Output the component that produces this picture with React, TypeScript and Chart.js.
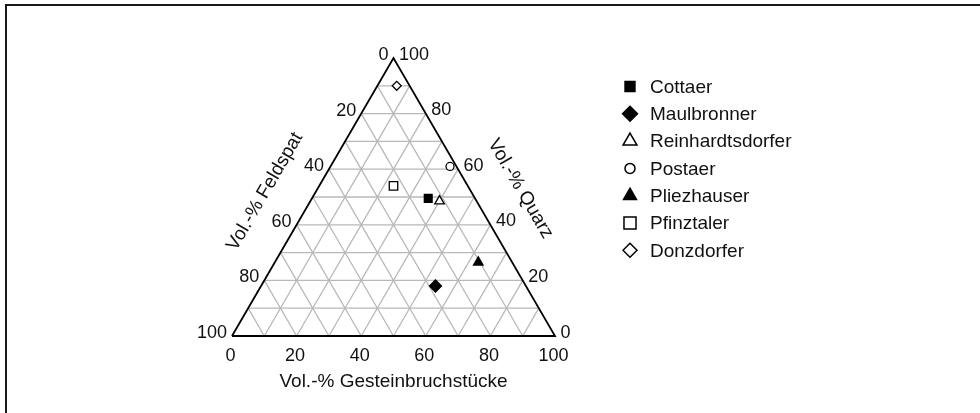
import React, { useEffect, useRef } from 'react';
import { Chart, registerables } from 'chart.js';
import { drawPoint } from 'chart.js/helpers';

Chart.register(...registerables);

// ---- data ----
const SAMPLES = ['Cottaer', 'Maulbronner', 'Reinhardtsdorfer', 'Postaer', 'Pliezhauser', 'Pfinztaler', 'Donzdorfer'];
const QUARZ = [49.5, 18, 48.5, 61, 26.5, 54, 90];
const GESTEIN = [36, 54, 40, 37, 63, 23, 6];
const FELDSPAT = [14.5, 28, 11.5, 2, 10.5, 23, 4];
const POINT_STYLES = ['rect', 'rectRot', 'triangle', 'circle', 'triangle', 'rect', 'rectRot'];
const FILLED = [true, true, false, false, true, false, false];
const POINT_RADII = [5.5, 6, 5.5, 4, 5.5, 6, 4.5];
const LEGEND_RADII = [7, 7.5, 8, 5, 7.5, 8.5, 7];

const GRID_STEPS = [10, 20, 30, 40, 50, 60, 70, 80, 90];
const TICKS = [0, 20, 40, 60, 80, 100];
const TITLE_G = 'Vol.-% Gesteinbruchstücke';
const TITLE_F = 'Vol.-% Feldspat';
const TITLE_Q = 'Vol.-% Quarz';

const H = Math.sqrt(3) / 2;
const toXY = (q: number, g: number) => ({ x: g + q / 2, y: q * H });

const FONT = '"Liberation Sans", Arial, Helvetica, sans-serif';

function lineDs(points: { x: number; y: number }[], color: string, width: number, order: number) {
  return {
    data: points,
    showLine: true,
    borderColor: color,
    borderWidth: width,
    pointRadius: 0,
    pointHoverRadius: 0,
    fill: false,
    clip: false as any,
    order,
  };
}

const labelPlugin = {
  id: 'ternaryLabels',
  afterDraw(chart: any) {
    const ctx = chart.ctx as CanvasRenderingContext2D;
    const xs = chart.scales.x;
    const ys = chart.scales.y;
    const px = (q: number, g: number) => {
      const p = toXY(q, g);
      return { x: xs.getPixelForValue(p.x), y: ys.getPixelForValue(p.y) };
    };
    ctx.save();
    // frame
    ctx.fillStyle = '#1a1a1a';
    ctx.fillRect(5, 4, 980, 2);
    ctx.fillRect(5, 4, 2, 420);

    ctx.fillStyle = '#111';
    ctx.font = `18px ${FONT}`;
    ctx.textBaseline = 'alphabetic';
    // bottom ticks (Gestein)
    ctx.textAlign = 'center';
    TICKS.forEach((v) => {
      const p = px(0, v);
      ctx.fillText(String(v), p.x - 1.5, p.y + 25);
    });
    // left ticks (Feldspat)
    ctx.textAlign = 'right';
    TICKS.forEach((v) => {
      const p = px(100 - v, 0);
      ctx.fillText(String(v), p.x - 5, p.y + 2);
    });
    // right ticks (Quarz)
    ctx.textAlign = 'left';
    TICKS.forEach((v) => {
      const p = px(v, 100 - v);
      ctx.fillText(String(v), p.x + 5.5, p.y + 1.5);
    });

    // titles
    ctx.font = `19px ${FONT}`;
    ctx.textAlign = 'center';
    const bl = px(0, 0);
    const br = px(0, 100);
    const ap = px(100, 0);
    ctx.fillText(TITLE_G, (bl.x + br.x) / 2, bl.y + 50.5);

    ctx.textBaseline = 'middle';
    // left title
    {
      const t = 0.44;
      const cx = bl.x + (ap.x - bl.x) * t;
      const cy = bl.y + (ap.y - bl.y) * t;
      const ang = Math.atan2(ap.y - bl.y, ap.x - bl.x);
      const nx = Math.sin(ang);
      const ny = -Math.cos(ang);
      ctx.save();
      ctx.translate(cx + nx * 44, cy + ny * 44);
      ctx.rotate(ang);
      ctx.fillText(TITLE_F, 0, 0);
      ctx.restore();
    }
    // right title
    {
      const t = 0.45;
      const cx = br.x + (ap.x - br.x) * t;
      const cy = br.y + (ap.y - br.y) * t;
      const ang = Math.atan2(br.y - ap.y, br.x - ap.x);
      const nx = -Math.sin(ang);
      const ny = Math.cos(ang);
      ctx.save();
      ctx.translate(cx - nx * 44, cy - ny * 44);
      ctx.rotate(ang);
      ctx.fillText(TITLE_Q, 0, 0);
      ctx.restore();
    }

    // legend
    ctx.textAlign = 'left';
    ctx.textBaseline = 'alphabetic';
    SAMPLES.forEach((name, i) => {
      const base = 92.8 + i * 27.3;
      const my = base - 6.3;
      ctx.fillStyle = FILLED[i] ? '#000' : '#fff';
      ctx.strokeStyle = '#000';
      ctx.lineWidth = 1.5;
      drawPoint(ctx, { pointStyle: POINT_STYLES[i] as any, rotation: 0, radius: LEGEND_RADII[i], borderWidth: 1.5 } as any, 630, my);
      ctx.fillStyle = '#111';
      ctx.fillText(name, 650, base);
    });
    ctx.restore();
  },
};

export default function App() {
  const ref = useRef<HTMLCanvasElement | null>(null);
  useEffect(() => {
    if (!ref.current) return;
    const datasets: any[] = [];
    SAMPLES.forEach((name, i) => {
      datasets.push({
        label: name,
        data: [toXY(QUARZ[i], GESTEIN[i])],
        showLine: false,
        pointStyle: POINT_STYLES[i],
        pointRadius: POINT_RADII[i],
        pointHoverRadius: POINT_RADII[i],
        backgroundColor: FILLED[i] ? '#000' : '#fff',
        borderColor: '#000',
        pointBorderWidth: 1.3,
        clip: false,
        order: 0,
        // Feldspat share kept for reference: FELDSPAT[i]
        feldspat: FELDSPAT[i],
      });
    });
    // outline
    datasets.push(lineDs([toXY(0, 0), toXY(0, 100), toXY(100, 0), toXY(0, 0)], '#000', 1.8, 1));
    // grid
    GRID_STEPS.forEach((k) => {
      datasets.push(lineDs([toXY(k, 0), toXY(k, 100 - k)], '#b8b8b8', 1.3, 2));
      datasets.push(lineDs([toXY(0, k), toXY(100 - k, k)], '#b8b8b8', 1.3, 2));
      datasets.push(lineDs([toXY(0, 100 - k), toXY(100 - k, 0)], '#b8b8b8', 1.3, 2));
    });

    const chart = new Chart(ref.current, {
      type: 'scatter',
      data: { datasets },
      options: {
        responsive: false,
        animation: false,
        events: [],
        layout: { padding: { left: 232, right: 425, top: 58, bottom: 77 } },
        plugins: { legend: { display: false }, tooltip: { enabled: false } },
        scales: {
          x: { type: 'linear', min: 0, max: 100, display: false },
          y: { type: 'linear', min: 0, max: 100 * H, display: false },
        },
      },
      plugins: [labelPlugin],
    } as any);
    return () => chart.destroy();
  }, []);
  return (
    <div style={{ position: 'absolute', left: 0, top: 0, width: 980, height: 413, background: '#fff' }}>
      <canvas ref={ref} width={980} height={413} />
    </div>
  );
}
